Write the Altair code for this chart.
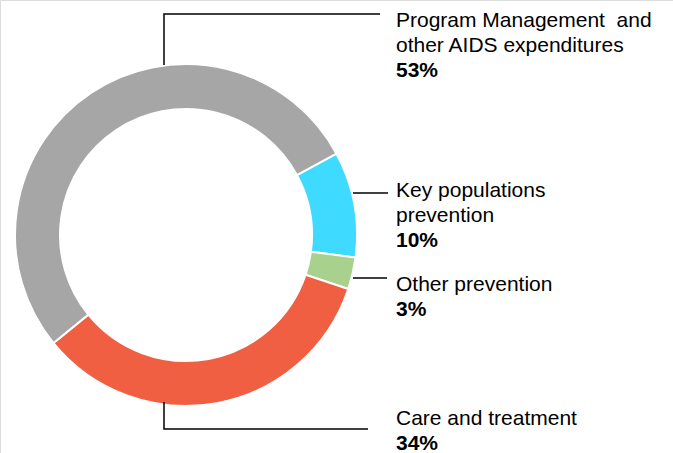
import math
import altair as alt
import pandas as pd

# ---- data ----
categories = ["Key populations prevention", "Other prevention", "Care and treatment",
              "Program Management and other AIDS expenditures"]
values = [10, 3, 34, 53]
pct_labels = ["10%", "3%", "34%", "53%"]
label_lines = [["Key populations", "prevention"], ["Other prevention"], ["Care and treatment"],
               ["Program Management\u00a0 and", "other AIDS expenditures"]]
colors = ["#3FDAFF", "#A9D18E", "#F15F42", "#A6A6A6"]

# ---- layout (annotation positions, px) ----
W, H = 673, 453
CX, CY, R_OUT, R_IN = 186, 235, 171, 126
START = math.radians(61.6)
TEXT_X = 396
LINE_H = 25
first_baseline = [197, 291, 425, 26.5]
leaders = [
    [(353, 193), (388, 193)],
    [(353, 278), (387, 278)],
    [(164, 402), (164, 429), (368, 429)],
    [(164, 65), (164, 14), (380, 14)],
]

arc_df = pd.DataFrame({"category": categories, "value": values, "order": range(len(categories))})

text_rows = []
for i, cat in enumerate(categories):
    y = first_baseline[i]
    for ln in label_lines[i]:
        text_rows.append({"category": cat, "text": ln, "x": TEXT_X, "y": y, "bold": "normal"})
        y += LINE_H
    text_rows.append({"category": cat, "text": pct_labels[i], "x": TEXT_X, "y": y, "bold": "bold"})
text_df = pd.DataFrame(text_rows)

line_rows = []
for i, cat in enumerate(categories):
    for j, (px, py) in enumerate(leaders[i]):
        line_rows.append({"category": cat, "x": px, "y": py, "k": j})
line_df = pd.DataFrame(line_rows)

xs = alt.Scale(domain=[0, W], range=[0, W])
ys = alt.Scale(domain=[0, H], range=[0, H])

arcs = alt.Chart(arc_df).mark_arc(
    radius=R_OUT, radius2=R_IN, stroke="white", strokeWidth=2
).encode(
    theta=alt.Theta("value:Q", stack=True, scale=alt.Scale(range=[START, START + 2 * math.pi])),
    order=alt.Order("order:O"),
    color=alt.Color("category:N", scale=alt.Scale(domain=categories, range=colors), legend=None),
    x=alt.value(CX),
    y=alt.value(CY),
)

lines = alt.Chart(line_df).mark_line(color="#000000", strokeWidth=1.5).encode(
    x=alt.X("x:Q", scale=xs, axis=None),
    y=alt.Y("y:Q", scale=ys, axis=None),
    detail="category:N",
    order="k:Q",
)

texts_normal = alt.Chart(text_df[text_df.bold == "normal"]).mark_text(
    align="left", baseline="alphabetic", font="Liberation Sans", fontSize=21, color="#000000"
).encode(
    x=alt.X("x:Q", scale=xs, axis=None),
    y=alt.Y("y:Q", scale=ys, axis=None),
    text="text:N",
)
texts_bold = alt.Chart(text_df[text_df.bold == "bold"]).mark_text(
    align="left", baseline="alphabetic", font="Liberation Sans", fontSize=21,
    fontWeight="bold", color="#000000"
).encode(
    x=alt.X("x:Q", scale=xs, axis=None),
    y=alt.Y("y:Q", scale=ys, axis=None),
    text="text:N",
)

chart = alt.layer(arcs, lines, texts_normal, texts_bold).properties(
    width=W, height=H, padding=0, autosize=alt.AutoSizeParams(type="none")
).configure_view(stroke=None).configure(background="white")

chart.save("out.html", embed_options={"renderer": "svg", "actions": False})
